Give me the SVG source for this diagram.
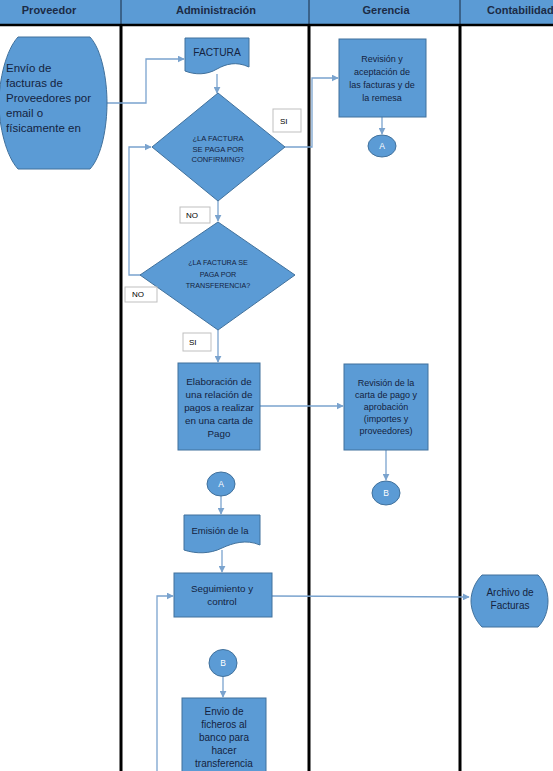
<svg xmlns="http://www.w3.org/2000/svg" width="553" height="771" viewBox="0 0 553 771">
<defs>
<marker id="arr" viewBox="0 0 10 10" refX="9" refY="5" markerWidth="7" markerHeight="7" markerUnits="userSpaceOnUse" orient="auto">
<path d="M0,0 L10,5 L0,10 Z" fill="#7AA3CE"/>
</marker>
</defs>
<style>
.hdr{font-family:"Liberation Sans",Arial,sans-serif;font-weight:bold;font-size:11px;fill:#1C2B45;text-anchor:middle}
.shape{fill:#5B9BD5;stroke:#41719C;stroke-width:1}
.t{font-family:"Liberation Sans",Arial,sans-serif;fill:#14233F;text-anchor:middle}
.lane{stroke:#000;stroke-width:3}
.conn{fill:none;stroke:#7AA3CE;stroke-width:1.3}
.lbl{fill:#fff;stroke:#BFBFBF;stroke-width:1}
.lt{font-family:"Liberation Sans",Arial,sans-serif;font-size:8px;fill:#000}
</style>
<rect width="553" height="771" fill="#fff"/>
<g id="header">
<rect x="0" y="0" width="553" height="25" fill="#5B9BD5"/>
<line x1="121" y1="0" x2="121" y2="25" stroke="#1a2a40" stroke-width="1"/>
<line x1="309" y1="0" x2="309" y2="25" stroke="#1a2a40" stroke-width="1"/>
<line x1="460" y1="0" x2="460" y2="25" stroke="#1a2a40" stroke-width="1"/>
<text class="hdr" x="49" y="14">Proveedor</text>
<text class="hdr" x="216" y="14">Administración</text>
<text class="hdr" x="386" y="14">Gerencia</text>
<text class="hdr" x="487" y="14" style="text-anchor:start">Contabilidad</text>
<line x1="0" y1="25" x2="553" y2="25" stroke="#000" stroke-width="2.5"/>
</g>
<g id="lanes">
<line class="lane" x1="121" y1="25" x2="121" y2="771"/>
<line class="lane" x1="309" y1="25" x2="309" y2="771"/>
<line class="lane" x1="460" y1="25" x2="460" y2="771"/>
</g>
<g id="connectors">
<polyline class="conn" points="107,103 146,103 146,59 184,59" marker-end="url(#arr)"/>
<line class="conn" x1="217" y1="74" x2="217" y2="93" marker-end="url(#arr)"/>
<polyline class="conn" points="285,147 312,147 312,78 338,78" marker-end="url(#arr)"/>
<line class="conn" x1="382" y1="117" x2="382" y2="134" marker-end="url(#arr)"/>
<line class="conn" x1="218" y1="201" x2="218" y2="221" marker-end="url(#arr)"/>
<polyline class="conn" points="141,275 129,275 129,147 151,147" marker-end="url(#arr)"/>
<line class="conn" x1="218" y1="330" x2="218" y2="362" marker-end="url(#arr)"/>
<line class="conn" x1="260" y1="406" x2="343" y2="406" marker-end="url(#arr)"/>
<line class="conn" x1="386" y1="450" x2="386" y2="480" marker-end="url(#arr)"/>
<line class="conn" x1="221" y1="496" x2="221" y2="514" marker-end="url(#arr)"/>
<line class="conn" x1="222" y1="550" x2="222" y2="572" marker-end="url(#arr)"/>
<line class="conn" x1="272" y1="596" x2="469" y2="597" marker-end="url(#arr)"/>
<polyline class="conn" points="157,771 157,596 173,596" marker-end="url(#arr)"/>
<line class="conn" x1="223" y1="677" x2="223" y2="697" marker-end="url(#arr)"/>
</g>
<g id="proveedor">
<path class="shape" d="M18,37 H90 C102,50 107,80 107,103 C107,126 102,156 90,169 H18 C6,156 -1,126 -1,103 C-1,80 6,50 18,37 Z"/>
<g class="t" style="text-anchor:start;font-size:11.5px">
<text x="6" y="72">Envío de</text>
<text x="6" y="87">facturas de</text>
<text x="6" y="102">Proveedores por</text>
<text x="6" y="117">email o</text>
<text x="6" y="132">físicamente en</text>
</g>
</g>
<g id="factura">
<path class="shape" d="M185,38 H249 V67 C236,61 226,64 217,69 C207,75 195,75 185,71 Z"/>
<text class="t" x="217" y="56" font-size="10.2">FACTURA</text>
</g>
<g id="dec-confirming">
<polygon class="shape" points="218,93 285,147 218,201 152,147"/>
<g class="t" font-size="7.6">
<text x="218" y="141">¿LA FACTURA</text>
<text x="218" y="152">SE PAGA POR</text>
<text x="218" y="162">CONFIRMING?</text>
</g>
</g>
<g id="lbl-si1"><rect class="lbl" x="273" y="109" width="28" height="23"/><text class="lt" x="280" y="124">SI</text></g>
<g id="revision1">
<rect class="shape" x="339" y="39" width="87" height="78"/>
<g class="t" font-size="9">
<text x="382" y="62">Revisión y</text>
<text x="382" y="75">aceptación de</text>
<text x="382" y="88">las facturas y de</text>
<text x="382" y="101">la remesa</text>
</g>
</g>
<g id="conn-a1">
<ellipse class="shape" cx="382" cy="146" rx="14" ry="11"/>
<text class="t" x="382" y="149" font-size="8.5" fill="#fff" style="fill:#fff">A</text>
</g>
<g id="lbl-no1"><rect class="lbl" x="180" y="207" width="30" height="16"/><text class="lt" x="186" y="218">NO</text></g>
<g id="dec-transferencia">
<polygon class="shape" points="218,222 295,275 218,330 140,275"/>
<g class="t" font-size="7.2">
<text x="218" y="265">¿LA FACTURA SE</text>
<text x="218" y="277">PAGA POR</text>
<text x="218" y="288">TRANSFERENCIA?</text>
</g>
</g>
<g id="lbl-no2"><rect class="lbl" x="125" y="287" width="32" height="15"/><text class="lt" x="132" y="297">NO</text></g>
<g id="lbl-si2"><rect class="lbl" x="183" y="333" width="28" height="18"/><text class="lt" x="189" y="345">SI</text></g>
<g id="elaboracion">
<rect class="shape" x="178" y="363" width="82" height="87"/>
<g class="t" font-size="9.8">
<text x="219" y="385">Elaboración de</text>
<text x="219" y="398">una relación de</text>
<text x="219" y="411">pagos a realizar</text>
<text x="219" y="424">en una carta de</text>
<text x="219" y="437">Pago</text>
</g>
</g>
<g id="revision2">
<rect class="shape" x="344" y="364" width="84" height="86"/>
<g class="t" font-size="9">
<text x="386" y="386">Revisión de la</text>
<text x="386" y="398">carta de pago y</text>
<text x="386" y="410">aprobación</text>
<text x="386" y="422">(importes y</text>
<text x="386" y="434">proveedores)</text>
</g>
</g>
<g id="conn-b1">
<ellipse class="shape" cx="386" cy="493" rx="14" ry="12"/>
<text class="t" x="386" y="496" font-size="8.5" style="fill:#fff">B</text>
</g>
<g id="conn-a2">
<ellipse class="shape" cx="221" cy="484" rx="14" ry="12"/>
<text class="t" x="221" y="487" font-size="8.5" style="fill:#fff">A</text>
</g>
<g id="emision">
<path class="shape" d="M184,515 H260 V545 C246,539 233,543 222,548 C210,554 196,554 184,550 Z"/>
<text class="t" x="220" y="534" font-size="9.5">Emisión de la</text>
</g>
<g id="seguimiento">
<rect class="shape" x="174" y="573" width="98" height="44"/>
<g class="t" font-size="9.8">
<text x="222" y="592">Seguimiento y</text>
<text x="222" y="605">control</text>
</g>
</g>
<g id="archivo">
<path class="shape" d="M482,575 H538 C545,582 548,592 548,601 C548,610 545,620 538,627 H482 C475,620 471,610 471,601 C471,592 475,582 482,575 Z"/>
<g class="t" font-size="10">
<text x="510" y="596">Archivo de</text>
<text x="510" y="609">Facturas</text>
</g>
</g>
<g id="conn-b2">
<ellipse class="shape" cx="223" cy="663" rx="14" ry="13.5"/>
<text class="t" x="223" y="666" font-size="8.5" style="fill:#fff">B</text>
</g>
<g id="envio">
<rect class="shape" x="182" y="698" width="84" height="80"/>
<g class="t" font-size="10">
<text x="224" y="715">Envio de</text>
<text x="224" y="728">ficheros al</text>
<text x="224" y="741">banco para</text>
<text x="224" y="754">hacer</text>
<text x="224" y="767">transferencia</text>
</g>
</g>
</svg>
